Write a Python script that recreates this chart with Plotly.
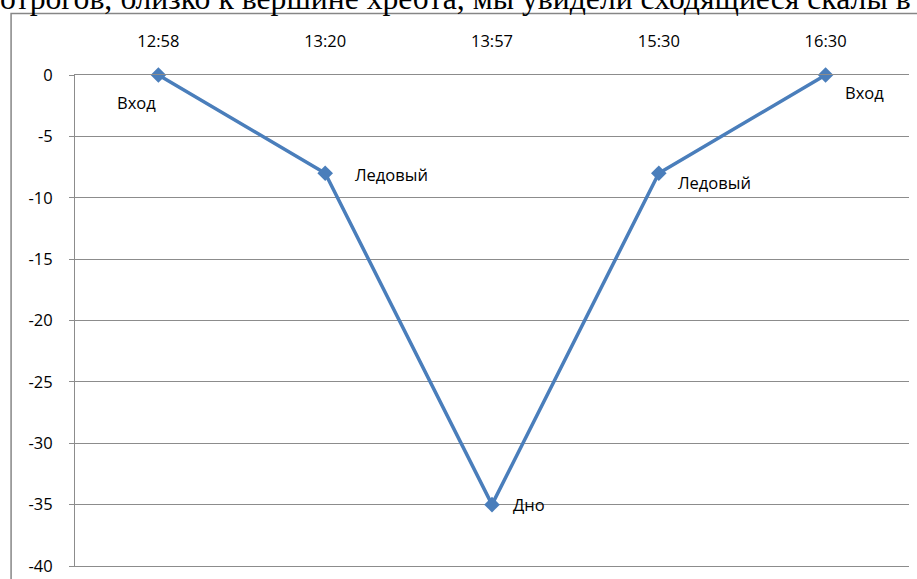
import plotly.graph_objects as go

times = ["12:58", "13:20", "13:57", "15:30", "16:30"]
depth = [0, -8, -35, -8, 0]
point_labels = ["Вход", "Ледовый", "Дно", "Ледовый", "Вход"]
y_ticks = [0, -5, -10, -15, -20, -25, -30, -35, -40]
caption = "отрогов, близко к вершине хребта, мы увидели сходящиеся скалы в"

# label placement (pixel offsets from each point)
label_offsets = [(-22, -27, "center"), (28, -1, "left"), (19, 0, "left"),
                 (17, -9, "left"), (17, -17, "left")]

W, H = 917, 579
L, R, T, B = 74.5, 7.5, 75, 13
pw, ph = W - L - R, H - T - B

FONT = "Open Sans"
FS = 16.5
GRID = "#8c8c8c"

fig = go.Figure()
fig.add_trace(go.Scatter(
    x=times, y=depth, mode="lines+markers",
    line=dict(color="#4a7ebb", width=3.5),
    marker=dict(symbol="diamond", size=12, color="#4a7ebb"),
    cliponaxis=False, hoverinfo="skip",
))

for xv, yv, txt, (dx, dy, anc) in zip(times, depth, point_labels, label_offsets):
    fig.add_annotation(x=xv, y=yv, xref="x", yref="y", text=txt, showarrow=False,
                       xanchor=anc, yanchor="middle", xshift=dx, yshift=dy,
                       font=dict(family=FONT, size=FS, color="#000000"))

# caption line at the top of the page (partly cut off, as in the source)
fig.add_annotation(xref="paper", yref="paper", x=(-3 - L) / pw, y=(H - B - 18.5) / ph,
                   text=caption, showarrow=False, xanchor="left", yanchor="bottom",
                   font=dict(family="Liberation Serif", size=31.7, color="#000000"))

# chart frame
fig.add_shape(type="rect", xref="paper", yref="paper",
              x0=(10.5 - L) / pw, x1=1.2, y0=(H - B - 13.5) / ph, y1=-0.2,
              line=dict(color="#868686", width=1.5), layer="below")

fig.update_layout(
    width=W, height=H,
    margin=dict(l=L, r=R, t=T, b=B, autoexpand=False),
    paper_bgcolor="white", plot_bgcolor="white",
    showlegend=False,
    xaxis=dict(type="category", side="top", range=[-0.5, 4.5], showgrid=False, ticks="",
               showline=True, mirror=True, linecolor=GRID, linewidth=1,
               ticklabelstandoff=20, zeroline=False, automargin=False,
               tickfont=dict(family=FONT, size=FS, color="#000000")),
    yaxis=dict(range=[-40, 0], tickvals=y_ticks, ticktext=[str(v) for v in y_ticks],
               showgrid=True, gridcolor=GRID, gridwidth=1, zeroline=False,
               showline=True, linecolor=GRID, linewidth=1,
               ticks="outside", ticklen=5, tickcolor=GRID,
               ticklabelstandoff=13, automargin=False,
               tickfont=dict(family=FONT, size=FS, color="#000000")),
)

fig.write_html("out.html", config={"displayModeBar": False},
               post_script="document.body.style.margin='0';")
